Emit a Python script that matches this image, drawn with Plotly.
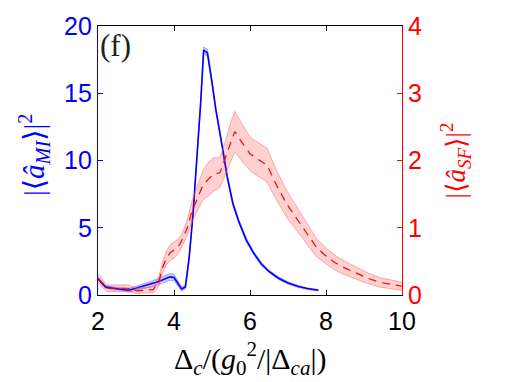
import plotly.graph_objects as go

# ---- data ----
x_mi = [2.0, 2.2, 2.4, 2.6, 2.8, 3.0, 3.2, 3.4, 3.6, 3.8, 3.9, 4.0, 4.1, 4.2, 4.3, 4.4, 4.5,
        4.6, 4.7, 4.78, 4.88, 5.0, 5.1, 5.26, 5.4, 5.55, 5.7, 5.9, 6.1, 6.3, 6.5, 6.75,
        7.0, 7.25, 7.5, 7.8]
y_mi = [1.2, 0.6, 0.5, 0.45, 0.35, 0.5, 0.65, 0.8, 1.0, 1.25, 1.35, 1.3, 0.9, 0.45, 0.6, 2.8, 6.0,
        10.0, 14.2, 18.2, 18.0, 15.8, 13.8, 11.2, 8.8, 6.8, 5.5, 4.1, 3.1, 2.3, 1.75, 1.25,
        0.9, 0.65, 0.48, 0.35]
e_mi = [0.1, 0.1, 0.1, 0.1, 0.12, 0.15, 0.18, 0.2, 0.22, 0.25, 0.25, 0.25, 0.2, 0.15, 0.15, 0.15, 0.15,
        0.15, 0.2, 0.25, 0.25, 0.2, 0.15, 0.15, 0.15, 0.15, 0.15, 0.15, 0.12, 0.12, 0.1, 0.1,
        0.08, 0.08, 0.06, 0.05]

x_sf = [2.0, 2.12, 2.24, 2.5, 2.79, 3.03, 3.2, 3.45, 3.6, 3.7, 3.8, 3.9, 4.03, 4.15, 4.24, 4.35,
        4.47, 4.6, 4.76, 4.9, 5.03, 5.21, 5.39, 5.5, 5.6, 5.75, 6.0, 6.2, 6.45, 6.7, 6.97,
        7.2, 7.37, 7.55, 7.76, 8.0, 8.24, 8.5, 8.8, 9.1, 9.4, 9.7, 10.0]
y_sf = [0.25, 0.17, 0.1, 0.1, 0.1, 0.06, 0.07, 0.08, 0.2, 0.41, 0.55, 0.63, 0.68, 0.75, 0.85, 1.0,
        1.24, 1.42, 1.63, 1.72, 1.79, 1.82, 2.1, 2.3, 2.43, 2.3, 2.1, 2.02, 1.93, 1.63, 1.35,
        1.16, 1.02, 0.86, 0.7, 0.58, 0.48, 0.4, 0.32, 0.25, 0.19, 0.16, 0.13]
e_sf = [0.06, 0.06, 0.05, 0.05, 0.05, 0.04, 0.04, 0.05, 0.07, 0.08, 0.1, 0.12, 0.12, 0.1, 0.1, 0.12,
        0.15, 0.18, 0.22, 0.25, 0.25, 0.22, 0.25, 0.28, 0.3, 0.28, 0.25, 0.25, 0.25, 0.22, 0.2,
        0.18, 0.16, 0.15, 0.13, 0.12, 0.11, 0.1, 0.09, 0.08, 0.07, 0.07, 0.06]

x_ticks = [2, 4, 6, 8, 10]
yl_ticks = [0, 5, 10, 15, 20]
yr_ticks = [0, 1, 2, 3, 4]

fig = go.Figure()

# blue band + line (left axis)
fig.add_trace(go.Scatter(x=x_mi, y=[a - b for a, b in zip(y_mi, e_mi)], mode="lines",
                         line=dict(color="rgba(90,90,255,0.6)", width=0.8), showlegend=False))
fig.add_trace(go.Scatter(x=x_mi, y=[a + b for a, b in zip(y_mi, e_mi)], mode="lines", fill="tonexty",
                         fillcolor="rgba(0,0,255,0.2)",
                         line=dict(color="rgba(90,90,255,0.6)", width=0.8), showlegend=False))
fig.add_trace(go.Scatter(x=x_mi, y=y_mi, mode="lines", line=dict(color="#0000ff", width=1.6),
                         showlegend=False))

# red band + dashed line (right axis)
fig.add_trace(go.Scatter(x=x_sf, y=[a - b for a, b in zip(y_sf, e_sf)], mode="lines", yaxis="y2",
                         line=dict(color="rgba(255,110,110,0.7)", width=0.8), showlegend=False))
fig.add_trace(go.Scatter(x=x_sf, y=[a + b for a, b in zip(y_sf, e_sf)], mode="lines", yaxis="y2",
                         fill="tonexty", fillcolor="rgba(255,0,0,0.18)",
                         line=dict(color="rgba(255,110,110,0.7)", width=0.8), showlegend=False))
fig.add_trace(go.Scatter(x=x_sf, y=y_sf, mode="lines", yaxis="y2",
                         line=dict(color="#ff0000", width=1.2, dash="8px,6px"), showlegend=False))

tickfont = dict(family="Liberation Sans, Arial, sans-serif", size=25)
serif = "Liberation Serif, DejaVu Serif, serif"

fig.update_layout(
    width=515, height=382,
    margin=dict(l=98, r=113, t=20, b=87),
    paper_bgcolor="white", plot_bgcolor="white",
    xaxis=dict(range=[2, 10], tickvals=x_ticks, ticks="inside", ticklen=5, tickcolor="black",
               showline=True, linecolor="black", linewidth=1.2, mirror="ticks",
               ticklabelstandoff=4,
               showgrid=False, zeroline=False, tickfont=dict(color="black", **tickfont)),
    yaxis=dict(range=[0, 20], tickvals=yl_ticks, ticks="inside", ticklen=5, tickcolor="#0000ff",
               showline=True, linecolor="#0000ff", linewidth=1.2, showgrid=False, zeroline=False,
               tickfont=dict(color="#0000ff", **tickfont)),
    yaxis2=dict(range=[0, 4], tickvals=yr_ticks, ticks="inside", ticklen=5, tickcolor="#ff0000",
                overlaying="y", side="right", showline=True, linecolor="#ff0000", linewidth=1.2,
                showgrid=False, zeroline=False, tickfont=dict(color="#ff0000", **tickfont)),
    annotations=[
        dict(text="(f)", x=0.0, y=1.0, xref="paper", yref="paper", xanchor="left", yanchor="top",
             xshift=0, yshift=0, showarrow=False,
             font=dict(family=serif, size=31, color="#222")),
        dict(text="|⟨<i>â</i><sub><i>MI</i></sub>⟩|<sup>2</sup>", x=0.0, y=0.52, xref="paper",
             yref="paper", xanchor="center", yanchor="middle", xshift=-64, textangle=-90,
             showarrow=False, font=dict(family=serif, size=29, color="#0000ff")),
        dict(text="|⟨<i>â</i><sub><i>SF</i></sub>⟩|<sup>2</sup>", x=1.0, y=0.5, xref="paper",
             yref="paper", xanchor="center", yanchor="middle", xshift=53, textangle=-90,
             showarrow=False, font=dict(family=serif, size=27, color="#ff0000")),
        dict(text="Δ<sub><i>c</i></sub>/(<i>g</i><sub>0</sub><sup>2</sup>/|Δ<sub><i>ca</i></sub>|)",
             x=0.5, y=0, xref="paper", yref="paper", xanchor="center", yanchor="top", yshift=-40,
             showarrow=False, font=dict(family=serif, size=30, color="black")),
    ],
)

fig.write_html("out.html")
